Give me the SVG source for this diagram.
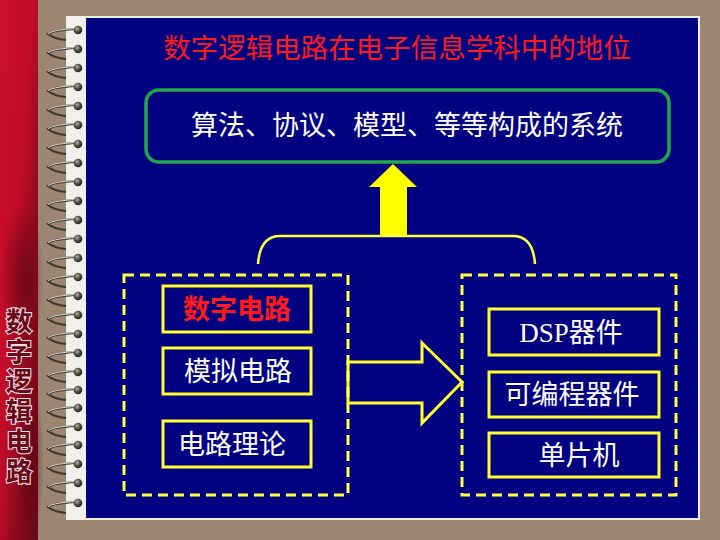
<svg xmlns="http://www.w3.org/2000/svg" width="720" height="540" viewBox="0 0 720 540">
<defs>
<linearGradient id="redg" x1="0" y1="0" x2="1" y2="1">
<stop offset="0" stop-color="#d0102a"/>
<stop offset="0.45" stop-color="#c00c28"/>
<stop offset="0.7" stop-color="#8a0a1e"/>
<stop offset="1" stop-color="#6a0818"/>
</linearGradient>
<radialGradient id="blob" cx="0.5" cy="0.5" r="0.5">
<stop offset="0" stop-color="#5a0612" stop-opacity="0.7"/>
<stop offset="1" stop-color="#5a0612" stop-opacity="0"/>
</radialGradient>
<radialGradient id="dotg" cx="0.4" cy="0.35" r="0.6">
<stop offset="0" stop-color="#b8b8a0"/>
<stop offset="0.5" stop-color="#5a5a48"/>
<stop offset="1" stop-color="#2a2a20"/>
</radialGradient>
<g id="ring">
<path d="M77,-1 Q54,0 48,4 Q54,9 66,10" fill="none" stroke="#3a3a30" stroke-width="2.2"/>
<path d="M77,-1.5 Q54,-0.5 48,3.5" fill="none" stroke="#e0e0d8" stroke-width="1"/>
<circle cx="78" cy="0" r="4.3" fill="url(#dotg)"/>
</g>
</defs>
<style>
.cjk{font-family:"Noto Sans CJK SC","Noto Sans",sans-serif;}
.w{fill:#ffffff;font-size:27px;text-anchor:middle;}
.box{fill:none;stroke:#ffff33;stroke-width:3;}
.dash{fill:none;stroke:#ffff44;stroke-width:3;stroke-dasharray:10 6;}
.side{font-size:26px;font-weight:bold;fill:#6a0a18;stroke:#f6dce4;stroke-width:2.2;paint-order:stroke;}
</style>
<rect x="0" y="0" width="720" height="540" fill="#9c8672"/>
<rect x="0" y="0" width="38" height="540" fill="url(#redg)"/>
<ellipse cx="22" cy="280" rx="22" ry="80" fill="url(#blob)"/>
<ellipse cx="30" cy="460" rx="14" ry="90" fill="url(#blob)"/>
<rect x="66" y="16" width="634" height="504" fill="#f2f0ea"/>
<rect x="86" y="18" width="612" height="500" fill="#000080"/>
<g id="side-title">
<text class="side cjk" x="19" y="308" writing-mode="vertical-rl" letter-spacing="4">数字逻辑电路</text>
</g>
<g id="spiral">
<use href="#ring" y="30"/><use href="#ring" y="49"/><use href="#ring" y="68"/><use href="#ring" y="87"/>
<use href="#ring" y="106"/><use href="#ring" y="125"/><use href="#ring" y="144"/><use href="#ring" y="163"/>
<use href="#ring" y="182"/><use href="#ring" y="201"/><use href="#ring" y="220"/><use href="#ring" y="239"/>
<use href="#ring" y="258"/><use href="#ring" y="277"/><use href="#ring" y="296"/><use href="#ring" y="315"/>
<use href="#ring" y="334"/><use href="#ring" y="353"/><use href="#ring" y="372"/><use href="#ring" y="390"/>
<use href="#ring" y="408"/><use href="#ring" y="427"/><use href="#ring" y="445"/><use href="#ring" y="464"/>
<use href="#ring" y="483"/><use href="#ring" y="503"/>
</g>
<g id="title">
<text class="cjk" x="397" y="58" font-size="27.5" fill="#ff1a1a" text-anchor="middle">数字逻辑电路在电子信息学科中的地位</text>
</g>
<g id="connectors">
<polygon points="393,164 417,187 407,187 407,237 380,237 380,187 369,187" fill="#ffff00"/>
<path d="M258,264 Q260,236 280,236 L513,236 Q533,236 535,264" fill="none" stroke="#ffff44" stroke-width="2.5"/>
<polygon points="348,362 422,362 422,343 462,382 422,423 422,403 348,403" fill="none" stroke="#ffff33" stroke-width="3" stroke-linejoin="miter"/>
</g>
<g id="system">
<rect x="146" y="90" width="523" height="72" rx="13" fill="none" stroke="#1fa84a" stroke-width="3.5"/>
<text class="cjk w" x="407" y="135" font-size="27.5">算法、协议、模型、等等构成的系统</text>
</g>
<g id="left-group">
<rect class="dash" x="124" y="275" width="224" height="220"/>
</g>
<g id="digital">
<rect class="box" x="163" y="286" width="148" height="46"/>
<text class="cjk" x="237" y="319" font-size="27" fill="#ff1a1a" text-anchor="middle" font-weight="bold">数字电路</text>
</g>
<g id="analog">
<rect class="box" x="163" y="348" width="148" height="46"/>
<text class="cjk w" x="238" y="381">模拟电路</text>
</g>
<g id="theory">
<rect class="box" x="163" y="421" width="148" height="46"/>
<text class="cjk w" x="232" y="454">电路理论</text>
</g>
<g id="right-group">
<rect class="dash" x="462" y="275" width="214" height="220"/>
</g>
<g id="dsp">
<rect class="box" x="489" y="309" width="170" height="46"/>
<text x="571" y="342" font-size="27" fill="#ffffff" text-anchor="middle"><tspan font-family="Liberation Serif,serif">DSP</tspan><tspan font-family="Noto Sans CJK SC,sans-serif">器件</tspan></text>
</g>
<g id="programmable">
<rect class="box" x="489" y="372" width="170" height="45"/>
<text class="cjk w" x="572" y="404">可编程器件</text>
</g>
<g id="mcu">
<rect class="box" x="489" y="433" width="170" height="44"/>
<text class="cjk w" x="579" y="465">单片机</text>
</g>
</svg>
